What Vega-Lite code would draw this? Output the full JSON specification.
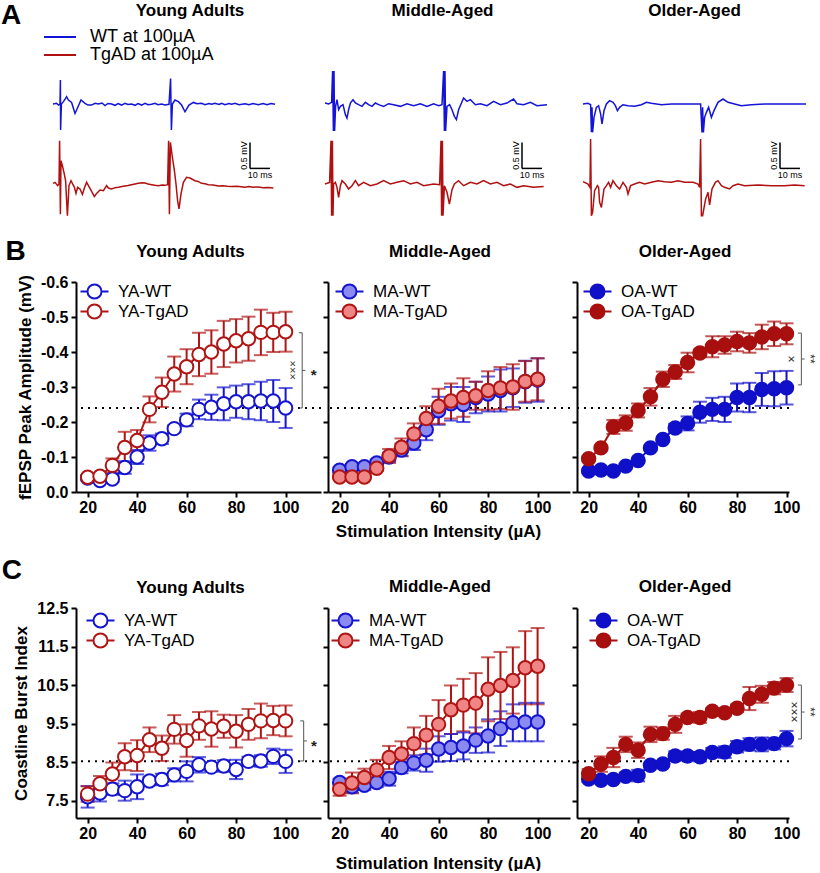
{
"$schema":"https://vega.github.io/schema/vega-lite/v6.json",
"background":"white",
"padding":{"left":1,"top":2,"right":0,"bottom":0},
"config":{
 "font":"Liberation Sans",
 "view":{"stroke":null},
 "title":{"font":"Liberation Sans","fontSize":17,"fontWeight":"bold","color":"black","frame":"group","offset":18},
 "axis":{"domainColor":"black","domainWidth":2,"tickColor":"black","tickWidth":2,"tickSize":5,"labelFont":"Liberation Sans","labelFontWeight":"bold","labelFontSize":16,"labelColor":"black","titleFont":"Liberation Sans","titleFontWeight":"bold","titleFontSize":17,"titleColor":"black","grid":false},
 "axisY":{"titlePadding":6,"labelPadding":3},
 "axisX":{"titlePadding":8,"labelPadding":2},
 "legend":{"labelFont":"Liberation Sans","labelColor":"black"},
 "text":{"font":"Liberation Sans"}
},
"datasets":{
"fepsp":[
{"a":"YA","g":"YA-WT","x":20,"y":-0.04,"e":0.008},{"a":"YA","g":"YA-WT","x":25,"y":-0.033,"e":0.006},{"a":"YA","g":"YA-WT","x":30,"y":-0.037,"e":0.008},{"a":"YA","g":"YA-WT","x":35,"y":-0.07,"e":0.018},{"a":"YA","g":"YA-WT","x":40,"y":-0.1,"e":0.02},{"a":"YA","g":"YA-WT","x":45,"y":-0.14,"e":0.022},{"a":"YA","g":"YA-WT","x":50,"y":-0.152,"e":0.015},{"a":"YA","g":"YA-WT","x":55,"y":-0.181,"e":0.01},{"a":"YA","g":"YA-WT","x":60,"y":-0.206,"e":0.018},{"a":"YA","g":"YA-WT","x":65,"y":-0.236,"e":0.028},{"a":"YA","g":"YA-WT","x":70,"y":-0.242,"e":0.036},{"a":"YA","g":"YA-WT","x":75,"y":-0.252,"e":0.047},{"a":"YA","g":"YA-WT","x":80,"y":-0.258,"e":0.046},{"a":"YA","g":"YA-WT","x":85,"y":-0.258,"e":0.05},{"a":"YA","g":"YA-WT","x":90,"y":-0.26,"e":0.055},{"a":"YA","g":"YA-WT","x":95,"y":-0.26,"e":0.06},{"a":"YA","g":"YA-WT","x":100,"y":-0.24,"e":0.057},
{"a":"YA","g":"YA-TgAD","x":20,"y":-0.042,"e":0.006},{"a":"YA","g":"YA-TgAD","x":25,"y":-0.045,"e":0.006},{"a":"YA","g":"YA-TgAD","x":30,"y":-0.076,"e":0.02},{"a":"YA","g":"YA-TgAD","x":35,"y":-0.127,"e":0.045},{"a":"YA","g":"YA-TgAD","x":40,"y":-0.147,"e":0.03},{"a":"YA","g":"YA-TgAD","x":45,"y":-0.236,"e":0.037},{"a":"YA","g":"YA-TgAD","x":50,"y":-0.285,"e":0.042},{"a":"YA","g":"YA-TgAD","x":55,"y":-0.337,"e":0.05},{"a":"YA","g":"YA-TgAD","x":60,"y":-0.358,"e":0.05},{"a":"YA","g":"YA-TgAD","x":65,"y":-0.393,"e":0.062},{"a":"YA","g":"YA-TgAD","x":70,"y":-0.4,"e":0.062},{"a":"YA","g":"YA-TgAD","x":75,"y":-0.423,"e":0.066},{"a":"YA","g":"YA-TgAD","x":80,"y":-0.432,"e":0.062},{"a":"YA","g":"YA-TgAD","x":85,"y":-0.438,"e":0.063},{"a":"YA","g":"YA-TgAD","x":90,"y":-0.456,"e":0.065},{"a":"YA","g":"YA-TgAD","x":95,"y":-0.456,"e":0.056},{"a":"YA","g":"YA-TgAD","x":100,"y":-0.458,"e":0.057},
{"a":"MA","g":"MA-WT","x":20,"y":-0.062,"e":0.008},{"a":"MA","g":"MA-WT","x":25,"y":-0.072,"e":0.008},{"a":"MA","g":"MA-WT","x":30,"y":-0.072,"e":0.008},{"a":"MA","g":"MA-WT","x":35,"y":-0.083,"e":0.01},{"a":"MA","g":"MA-WT","x":40,"y":-0.1,"e":0.012},{"a":"MA","g":"MA-WT","x":45,"y":-0.12,"e":0.018},{"a":"MA","g":"MA-WT","x":50,"y":-0.14,"e":0.02},{"a":"MA","g":"MA-WT","x":55,"y":-0.178,"e":0.03},{"a":"MA","g":"MA-WT","x":60,"y":-0.232,"e":0.04},{"a":"MA","g":"MA-WT","x":65,"y":-0.252,"e":0.048},{"a":"MA","g":"MA-WT","x":70,"y":-0.25,"e":0.05},{"a":"MA","g":"MA-WT","x":75,"y":-0.27,"e":0.045},{"a":"MA","g":"MA-WT","x":80,"y":-0.28,"e":0.05},{"a":"MA","g":"MA-WT","x":85,"y":-0.29,"e":0.06},{"a":"MA","g":"MA-WT","x":90,"y":-0.298,"e":0.055},{"a":"MA","g":"MA-WT","x":95,"y":-0.315,"e":0.06},{"a":"MA","g":"MA-WT","x":100,"y":-0.32,"e":0.062},
{"a":"MA","g":"MA-TgAD","x":20,"y":-0.043,"e":0.006},{"a":"MA","g":"MA-TgAD","x":25,"y":-0.043,"e":0.006},{"a":"MA","g":"MA-TgAD","x":30,"y":-0.043,"e":0.006},{"a":"MA","g":"MA-TgAD","x":35,"y":-0.068,"e":0.008},{"a":"MA","g":"MA-TgAD","x":40,"y":-0.103,"e":0.02},{"a":"MA","g":"MA-TgAD","x":45,"y":-0.128,"e":0.025},{"a":"MA","g":"MA-TgAD","x":50,"y":-0.166,"e":0.03},{"a":"MA","g":"MA-TgAD","x":55,"y":-0.21,"e":0.035},{"a":"MA","g":"MA-TgAD","x":60,"y":-0.245,"e":0.05},{"a":"MA","g":"MA-TgAD","x":65,"y":-0.26,"e":0.05},{"a":"MA","g":"MA-TgAD","x":70,"y":-0.27,"e":0.055},{"a":"MA","g":"MA-TgAD","x":75,"y":-0.275,"e":0.04},{"a":"MA","g":"MA-TgAD","x":80,"y":-0.29,"e":0.055},{"a":"MA","g":"MA-TgAD","x":85,"y":-0.297,"e":0.06},{"a":"MA","g":"MA-TgAD","x":90,"y":-0.3,"e":0.065},{"a":"MA","g":"MA-TgAD","x":95,"y":-0.316,"e":0.058},{"a":"MA","g":"MA-TgAD","x":100,"y":-0.322,"e":0.06},
{"a":"OA","g":"OA-WT","x":20,"y":-0.06,"e":0.005},{"a":"OA","g":"OA-WT","x":25,"y":-0.063,"e":0.005},{"a":"OA","g":"OA-WT","x":30,"y":-0.06,"e":0.005},{"a":"OA","g":"OA-WT","x":35,"y":-0.074,"e":0.006},{"a":"OA","g":"OA-WT","x":40,"y":-0.09,"e":0.006},{"a":"OA","g":"OA-WT","x":45,"y":-0.126,"e":0.006},{"a":"OA","g":"OA-WT","x":50,"y":-0.15,"e":0.006},{"a":"OA","g":"OA-WT","x":55,"y":-0.183,"e":0.012},{"a":"OA","g":"OA-WT","x":60,"y":-0.196,"e":0.02},{"a":"OA","g":"OA-WT","x":65,"y":-0.228,"e":0.03},{"a":"OA","g":"OA-WT","x":70,"y":-0.236,"e":0.033},{"a":"OA","g":"OA-WT","x":75,"y":-0.236,"e":0.036},{"a":"OA","g":"OA-WT","x":80,"y":-0.27,"e":0.04},{"a":"OA","g":"OA-WT","x":85,"y":-0.27,"e":0.042},{"a":"OA","g":"OA-WT","x":90,"y":-0.293,"e":0.047},{"a":"OA","g":"OA-WT","x":95,"y":-0.295,"e":0.05},{"a":"OA","g":"OA-WT","x":100,"y":-0.298,"e":0.048},
{"a":"OA","g":"OA-TgAD","x":20,"y":-0.095,"e":0.006},{"a":"OA","g":"OA-TgAD","x":25,"y":-0.126,"e":0.006},{"a":"OA","g":"OA-TgAD","x":30,"y":-0.186,"e":0.02},{"a":"OA","g":"OA-TgAD","x":35,"y":-0.197,"e":0.022},{"a":"OA","g":"OA-TgAD","x":40,"y":-0.233,"e":0.02},{"a":"OA","g":"OA-TgAD","x":45,"y":-0.272,"e":0.025},{"a":"OA","g":"OA-TgAD","x":50,"y":-0.322,"e":0.022},{"a":"OA","g":"OA-TgAD","x":55,"y":-0.343,"e":0.02},{"a":"OA","g":"OA-TgAD","x":60,"y":-0.37,"e":0.028},{"a":"OA","g":"OA-TgAD","x":65,"y":-0.397,"e":0.01},{"a":"OA","g":"OA-TgAD","x":70,"y":-0.415,"e":0.03},{"a":"OA","g":"OA-TgAD","x":75,"y":-0.42,"e":0.025},{"a":"OA","g":"OA-TgAD","x":80,"y":-0.43,"e":0.028},{"a":"OA","g":"OA-TgAD","x":85,"y":-0.426,"e":0.028},{"a":"OA","g":"OA-TgAD","x":90,"y":-0.443,"e":0.035},{"a":"OA","g":"OA-TgAD","x":95,"y":-0.452,"e":0.035},{"a":"OA","g":"OA-TgAD","x":100,"y":-0.452,"e":0.03}
],
"cbi":[
{"a":"YA","g":"YA-WT","x":20,"y":7.6,"e":0.28},{"a":"YA","g":"YA-WT","x":25,"y":7.7,"e":0.22},{"a":"YA","g":"YA-WT","x":30,"y":7.8,"e":0.15},{"a":"YA","g":"YA-WT","x":35,"y":7.76,"e":0.26},{"a":"YA","g":"YA-WT","x":40,"y":7.86,"e":0.32},{"a":"YA","g":"YA-WT","x":45,"y":8.01,"e":0.1},{"a":"YA","g":"YA-WT","x":50,"y":8.05,"e":0.15},{"a":"YA","g":"YA-WT","x":55,"y":8.17,"e":0.17},{"a":"YA","g":"YA-WT","x":60,"y":8.26,"e":0.26},{"a":"YA","g":"YA-WT","x":65,"y":8.43,"e":0.2},{"a":"YA","g":"YA-WT","x":70,"y":8.37,"e":0.1},{"a":"YA","g":"YA-WT","x":75,"y":8.4,"e":0.15},{"a":"YA","g":"YA-WT","x":80,"y":8.31,"e":0.25},{"a":"YA","g":"YA-WT","x":85,"y":8.52,"e":0.12},{"a":"YA","g":"YA-WT","x":90,"y":8.53,"e":0.15},{"a":"YA","g":"YA-WT","x":95,"y":8.65,"e":0.2},{"a":"YA","g":"YA-WT","x":100,"y":8.52,"e":0.3},
{"a":"YA","g":"YA-TgAD","x":20,"y":7.67,"e":0.2},{"a":"YA","g":"YA-TgAD","x":25,"y":7.94,"e":0.2},{"a":"YA","g":"YA-TgAD","x":30,"y":8.19,"e":0.3},{"a":"YA","g":"YA-TgAD","x":35,"y":8.64,"e":0.35},{"a":"YA","g":"YA-TgAD","x":40,"y":8.67,"e":0.4},{"a":"YA","g":"YA-TgAD","x":45,"y":9.08,"e":0.32},{"a":"YA","g":"YA-TgAD","x":50,"y":8.86,"e":0.33},{"a":"YA","g":"YA-TgAD","x":55,"y":9.35,"e":0.37},{"a":"YA","g":"YA-TgAD","x":60,"y":9.06,"e":0.42},{"a":"YA","g":"YA-TgAD","x":65,"y":9.44,"e":0.36},{"a":"YA","g":"YA-TgAD","x":70,"y":9.36,"e":0.46},{"a":"YA","g":"YA-TgAD","x":75,"y":9.43,"e":0.3},{"a":"YA","g":"YA-TgAD","x":80,"y":9.3,"e":0.42},{"a":"YA","g":"YA-TgAD","x":85,"y":9.48,"e":0.4},{"a":"YA","g":"YA-TgAD","x":90,"y":9.57,"e":0.45},{"a":"YA","g":"YA-TgAD","x":95,"y":9.58,"e":0.38},{"a":"YA","g":"YA-TgAD","x":100,"y":9.57,"e":0.4},
{"a":"MA","g":"MA-WT","x":20,"y":7.97,"e":0.1},{"a":"MA","g":"MA-WT","x":25,"y":7.86,"e":0.15},{"a":"MA","g":"MA-WT","x":30,"y":7.9,"e":0.12},{"a":"MA","g":"MA-WT","x":35,"y":7.97,"e":0.12},{"a":"MA","g":"MA-WT","x":40,"y":8.07,"e":0.18},{"a":"MA","g":"MA-WT","x":45,"y":8.36,"e":0.15},{"a":"MA","g":"MA-WT","x":50,"y":8.48,"e":0.2},{"a":"MA","g":"MA-WT","x":55,"y":8.55,"e":0.3},{"a":"MA","g":"MA-WT","x":60,"y":8.84,"e":0.33},{"a":"MA","g":"MA-WT","x":65,"y":8.88,"e":0.35},{"a":"MA","g":"MA-WT","x":70,"y":8.92,"e":0.35},{"a":"MA","g":"MA-WT","x":75,"y":9.07,"e":0.33},{"a":"MA","g":"MA-WT","x":80,"y":9.18,"e":0.43},{"a":"MA","g":"MA-WT","x":85,"y":9.37,"e":0.45},{"a":"MA","g":"MA-WT","x":90,"y":9.52,"e":0.48},{"a":"MA","g":"MA-WT","x":95,"y":9.54,"e":0.5},{"a":"MA","g":"MA-WT","x":100,"y":9.54,"e":0.5},
{"a":"MA","g":"MA-TgAD","x":20,"y":7.8,"e":0.17},{"a":"MA","g":"MA-TgAD","x":25,"y":7.96,"e":0.27},{"a":"MA","g":"MA-TgAD","x":30,"y":8.1,"e":0.23},{"a":"MA","g":"MA-TgAD","x":35,"y":8.3,"e":0.26},{"a":"MA","g":"MA-TgAD","x":40,"y":8.62,"e":0.3},{"a":"MA","g":"MA-TgAD","x":45,"y":8.71,"e":0.33},{"a":"MA","g":"MA-TgAD","x":50,"y":8.98,"e":0.42},{"a":"MA","g":"MA-TgAD","x":55,"y":9.2,"e":0.5},{"a":"MA","g":"MA-TgAD","x":60,"y":9.48,"e":0.63},{"a":"MA","g":"MA-TgAD","x":65,"y":9.86,"e":0.63},{"a":"MA","g":"MA-TgAD","x":70,"y":9.98,"e":0.68},{"a":"MA","g":"MA-TgAD","x":75,"y":10.03,"e":0.78},{"a":"MA","g":"MA-TgAD","x":80,"y":10.39,"e":0.83},{"a":"MA","g":"MA-TgAD","x":85,"y":10.49,"e":0.87},{"a":"MA","g":"MA-TgAD","x":90,"y":10.62,"e":0.86},{"a":"MA","g":"MA-TgAD","x":95,"y":10.95,"e":0.95},{"a":"MA","g":"MA-TgAD","x":100,"y":10.99,"e":0.99},
{"a":"OA","g":"OA-WT","x":20,"y":8.06,"e":0.08},{"a":"OA","g":"OA-WT","x":25,"y":8.03,"e":0.08},{"a":"OA","g":"OA-WT","x":30,"y":8.05,"e":0.08},{"a":"OA","g":"OA-WT","x":35,"y":8.13,"e":0.1},{"a":"OA","g":"OA-WT","x":40,"y":8.15,"e":0.15},{"a":"OA","g":"OA-WT","x":45,"y":8.42,"e":0.06},{"a":"OA","g":"OA-WT","x":50,"y":8.45,"e":0.06},{"a":"OA","g":"OA-WT","x":55,"y":8.66,"e":0.12},{"a":"OA","g":"OA-WT","x":60,"y":8.66,"e":0.1},{"a":"OA","g":"OA-WT","x":65,"y":8.64,"e":0.12},{"a":"OA","g":"OA-WT","x":70,"y":8.75,"e":0.12},{"a":"OA","g":"OA-WT","x":75,"y":8.76,"e":0.15},{"a":"OA","g":"OA-WT","x":80,"y":8.9,"e":0.15},{"a":"OA","g":"OA-WT","x":85,"y":8.96,"e":0.16},{"a":"OA","g":"OA-WT","x":90,"y":8.96,"e":0.18},{"a":"OA","g":"OA-WT","x":95,"y":8.98,"e":0.15},{"a":"OA","g":"OA-WT","x":100,"y":9.11,"e":0.2},
{"a":"OA","g":"OA-TgAD","x":20,"y":8.2,"e":0.12},{"a":"OA","g":"OA-TgAD","x":25,"y":8.45,"e":0.2},{"a":"OA","g":"OA-TgAD","x":30,"y":8.62,"e":0.25},{"a":"OA","g":"OA-TgAD","x":35,"y":8.96,"e":0.2},{"a":"OA","g":"OA-TgAD","x":40,"y":8.81,"e":0.2},{"a":"OA","g":"OA-TgAD","x":45,"y":9.22,"e":0.2},{"a":"OA","g":"OA-TgAD","x":50,"y":9.24,"e":0.16},{"a":"OA","g":"OA-TgAD","x":55,"y":9.48,"e":0.22},{"a":"OA","g":"OA-TgAD","x":60,"y":9.66,"e":0.1},{"a":"OA","g":"OA-TgAD","x":65,"y":9.66,"e":0.14},{"a":"OA","g":"OA-TgAD","x":70,"y":9.82,"e":0.08},{"a":"OA","g":"OA-TgAD","x":75,"y":9.78,"e":0.08},{"a":"OA","g":"OA-TgAD","x":80,"y":9.9,"e":0.1},{"a":"OA","g":"OA-TgAD","x":85,"y":10.15,"e":0.3},{"a":"OA","g":"OA-TgAD","x":90,"y":10.26,"e":0.22},{"a":"OA","g":"OA-TgAD","x":95,"y":10.42,"e":0.16},{"a":"OA","g":"OA-TgAD","x":100,"y":10.5,"e":0.18}
],
"traces":[
{"p":"YA","g":"WT","t":0,"v":0},{"p":"YA","g":"WT","t":1.8,"v":0.013},{"p":"YA","g":"WT","t":2.7,"v":-0.02},{"p":"YA","g":"WT","t":3.5,"v":0},{"p":"YA","g":"WT","t":3.7,"v":0.46},{"p":"YA","g":"WT","t":3.8,"v":-0.5},{"p":"YA","g":"WT","t":4.2,"v":0},{"p":"YA","g":"WT","t":5.2,"v":0.045},{"p":"YA","g":"WT","t":6.3,"v":0.11},{"p":"YA","g":"WT","t":6.8,"v":0.14},{"p":"YA","g":"WT","t":7.7,"v":0.077},{"p":"YA","g":"WT","t":9.3,"v":0.03},{"p":"YA","g":"WT","t":11,"v":-0.18},{"p":"YA","g":"WT","t":11.8,"v":-0.115},{"p":"YA","g":"WT","t":14,"v":0.077},{"p":"YA","g":"WT","t":16,"v":0.013},{"p":"YA","g":"WT","t":17.5,"v":-0.02},{"p":"YA","g":"WT","t":19.3,"v":-0.02},{"p":"YA","g":"WT","t":21,"v":0.013},{"p":"YA","g":"WT","t":22.7,"v":0},{"p":"YA","g":"WT","t":24.5,"v":0.02},{"p":"YA","g":"WT","t":26,"v":-0.03},{"p":"YA","g":"WT","t":27.5,"v":0.01},{"p":"YA","g":"WT","t":29.3,"v":0},{"p":"YA","g":"WT","t":31,"v":-0.025},{"p":"YA","g":"WT","t":32.5,"v":0.01},{"p":"YA","g":"WT","t":34.3,"v":-0.02},{"p":"YA","g":"WT","t":36,"v":0.015},{"p":"YA","g":"WT","t":37.5,"v":-0.01},{"p":"YA","g":"WT","t":39.3,"v":0},{"p":"YA","g":"WT","t":41,"v":-0.025},{"p":"YA","g":"WT","t":42.5,"v":0.01},{"p":"YA","g":"WT","t":44.3,"v":-0.02},{"p":"YA","g":"WT","t":46,"v":0.015},{"p":"YA","g":"WT","t":47.5,"v":-0.015},{"p":"YA","g":"WT","t":49.3,"v":-0.006},{"p":"YA","g":"WT","t":51,"v":0.015},{"p":"YA","g":"WT","t":52.5,"v":-0.015},{"p":"YA","g":"WT","t":54.3,"v":0},{"p":"YA","g":"WT","t":56,"v":-0.02},{"p":"YA","g":"WT","t":58,"v":-0.006},{"p":"YA","g":"WT","t":58.8,"v":0.49},{"p":"YA","g":"WT","t":59.2,"v":-0.5},{"p":"YA","g":"WT","t":59.7,"v":0},{"p":"YA","g":"WT","t":61,"v":0.077},{"p":"YA","g":"WT","t":62.7,"v":0.045},{"p":"YA","g":"WT","t":64.3,"v":-0.02},{"p":"YA","g":"WT","t":66,"v":-0.15},{"p":"YA","g":"WT","t":68,"v":-0.02},{"p":"YA","g":"WT","t":70.2,"v":0.03},{"p":"YA","g":"WT","t":72,"v":0.005},{"p":"YA","g":"WT","t":74.3,"v":0.013},{"p":"YA","g":"WT","t":76,"v":-0.015},{"p":"YA","g":"WT","t":78,"v":0.01},{"p":"YA","g":"WT","t":79.3,"v":-0.006},{"p":"YA","g":"WT","t":81,"v":0.015},{"p":"YA","g":"WT","t":83,"v":-0.01},{"p":"YA","g":"WT","t":84.3,"v":0.013},{"p":"YA","g":"WT","t":86,"v":-0.015},{"p":"YA","g":"WT","t":88,"v":0.01},{"p":"YA","g":"WT","t":89.3,"v":-0.006},{"p":"YA","g":"WT","t":91,"v":0.015},{"p":"YA","g":"WT","t":93,"v":-0.015},{"p":"YA","g":"WT","t":96,"v":0.006},{"p":"YA","g":"WT","t":98,"v":-0.015},{"p":"YA","g":"WT","t":100,"v":0.01},{"p":"YA","g":"WT","t":102.7,"v":-0.013},{"p":"YA","g":"WT","t":105,"v":0.01},{"p":"YA","g":"WT","t":107,"v":-0.015},{"p":"YA","g":"WT","t":109,"v":0.01},{"p":"YA","g":"WT","t":111,"v":-0.006},
{"p":"YA","g":"TgAD","t":0,"v":0.013},{"p":"YA","g":"TgAD","t":1,"v":0.032},{"p":"YA","g":"TgAD","t":2.3,"v":-0.032},{"p":"YA","g":"TgAD","t":3,"v":0},{"p":"YA","g":"TgAD","t":3.3,"v":0.83},{"p":"YA","g":"TgAD","t":3.7,"v":-0.58},{"p":"YA","g":"TgAD","t":4,"v":0.45},{"p":"YA","g":"TgAD","t":4.7,"v":0.35},{"p":"YA","g":"TgAD","t":5.5,"v":0.22},{"p":"YA","g":"TgAD","t":6.3,"v":0.064},{"p":"YA","g":"TgAD","t":7.2,"v":-0.61},{"p":"YA","g":"TgAD","t":8,"v":-0.03},{"p":"YA","g":"TgAD","t":9,"v":0.064},{"p":"YA","g":"TgAD","t":10.7,"v":-0.064},{"p":"YA","g":"TgAD","t":11.5,"v":-0.18},{"p":"YA","g":"TgAD","t":12.3,"v":-0.064},{"p":"YA","g":"TgAD","t":13.5,"v":-0.096},{"p":"YA","g":"TgAD","t":14.7,"v":-0.2},{"p":"YA","g":"TgAD","t":15.7,"v":-0.077},{"p":"YA","g":"TgAD","t":16.8,"v":0.032},{"p":"YA","g":"TgAD","t":18,"v":-0.05},{"p":"YA","g":"TgAD","t":19.3,"v":-0.14},{"p":"YA","g":"TgAD","t":20.7,"v":-0.24},{"p":"YA","g":"TgAD","t":21.8,"v":-0.18},{"p":"YA","g":"TgAD","t":23.5,"v":-0.115},{"p":"YA","g":"TgAD","t":25.2,"v":-0.128},{"p":"YA","g":"TgAD","t":26.8,"v":-0.032},{"p":"YA","g":"TgAD","t":27.7,"v":-0.077},{"p":"YA","g":"TgAD","t":29.3,"v":-0.096},{"p":"YA","g":"TgAD","t":31,"v":-0.07},{"p":"YA","g":"TgAD","t":32.7,"v":-0.064},{"p":"YA","g":"TgAD","t":34.5,"v":-0.05},{"p":"YA","g":"TgAD","t":36,"v":-0.038},{"p":"YA","g":"TgAD","t":37.5,"v":-0.03},{"p":"YA","g":"TgAD","t":39.3,"v":-0.013},{"p":"YA","g":"TgAD","t":41,"v":0},{"p":"YA","g":"TgAD","t":42.7,"v":0.013},{"p":"YA","g":"TgAD","t":44.5,"v":0.025},{"p":"YA","g":"TgAD","t":46,"v":0.019},{"p":"YA","g":"TgAD","t":47.5,"v":0},{"p":"YA","g":"TgAD","t":49.3,"v":-0.013},{"p":"YA","g":"TgAD","t":51,"v":-0.025},{"p":"YA","g":"TgAD","t":52.7,"v":-0.032},{"p":"YA","g":"TgAD","t":54.5,"v":-0.02},{"p":"YA","g":"TgAD","t":56,"v":-0.026},{"p":"YA","g":"TgAD","t":57.3,"v":-0.013},{"p":"YA","g":"TgAD","t":57.8,"v":0.83},{"p":"YA","g":"TgAD","t":58.2,"v":-0.58},{"p":"YA","g":"TgAD","t":58.7,"v":0.8},{"p":"YA","g":"TgAD","t":59.7,"v":0.51},{"p":"YA","g":"TgAD","t":60.7,"v":0.256},{"p":"YA","g":"TgAD","t":61.5,"v":0},{"p":"YA","g":"TgAD","t":62.3,"v":-0.32},{"p":"YA","g":"TgAD","t":63,"v":-0.48},{"p":"YA","g":"TgAD","t":64,"v":-0.19},{"p":"YA","g":"TgAD","t":65.2,"v":0.032},{"p":"YA","g":"TgAD","t":66.8,"v":0.128},{"p":"YA","g":"TgAD","t":68.5,"v":0.115},{"p":"YA","g":"TgAD","t":71,"v":0.064},{"p":"YA","g":"TgAD","t":72.5,"v":0.05},{"p":"YA","g":"TgAD","t":74.3,"v":0.013},{"p":"YA","g":"TgAD","t":76,"v":0.005},{"p":"YA","g":"TgAD","t":77.7,"v":-0.013},{"p":"YA","g":"TgAD","t":80,"v":-0.02},{"p":"YA","g":"TgAD","t":82.7,"v":-0.038},{"p":"YA","g":"TgAD","t":85,"v":-0.035},{"p":"YA","g":"TgAD","t":87,"v":-0.045},{"p":"YA","g":"TgAD","t":89.3,"v":-0.05},{"p":"YA","g":"TgAD","t":92,"v":-0.045},{"p":"YA","g":"TgAD","t":94,"v":-0.055},{"p":"YA","g":"TgAD","t":96,"v":-0.064},{"p":"YA","g":"TgAD","t":98,"v":-0.05},{"p":"YA","g":"TgAD","t":100,"v":-0.06},{"p":"YA","g":"TgAD","t":102.7,"v":-0.058},{"p":"YA","g":"TgAD","t":105,"v":-0.07},{"p":"YA","g":"TgAD","t":107.5,"v":-0.065},{"p":"YA","g":"TgAD","t":110.2,"v":-0.077},
{"p":"MA","g":"WT","t":0,"v":0.019},{"p":"MA","g":"WT","t":1.8,"v":0},{"p":"MA","g":"WT","t":3.3,"v":0.032},{"p":"MA","g":"WT","t":3.8,"v":0.635},{"p":"MA","g":"WT","t":4.2,"v":-0.52},{"p":"MA","g":"WT","t":4.5,"v":0.635},{"p":"MA","g":"WT","t":4.8,"v":-0.52},{"p":"MA","g":"WT","t":5.3,"v":-0.045},{"p":"MA","g":"WT","t":6,"v":0.083},{"p":"MA","g":"WT","t":6.8,"v":-0.11},{"p":"MA","g":"WT","t":7.7,"v":-0.045},{"p":"MA","g":"WT","t":9,"v":-0.013},{"p":"MA","g":"WT","t":10.2,"v":-0.205},{"p":"MA","g":"WT","t":11,"v":-0.27},{"p":"MA","g":"WT","t":11.8,"v":-0.11},{"p":"MA","g":"WT","t":12.7,"v":0.019},{"p":"MA","g":"WT","t":14,"v":0.083},{"p":"MA","g":"WT","t":15.2,"v":0.019},{"p":"MA","g":"WT","t":16.8,"v":-0.013},{"p":"MA","g":"WT","t":18.5,"v":-0.045},{"p":"MA","g":"WT","t":20.2,"v":0.032},{"p":"MA","g":"WT","t":21.8,"v":-0.013},{"p":"MA","g":"WT","t":23.5,"v":-0.045},{"p":"MA","g":"WT","t":25.2,"v":0.019},{"p":"MA","g":"WT","t":26.8,"v":-0.013},{"p":"MA","g":"WT","t":29.3,"v":-0.045},{"p":"MA","g":"WT","t":31.8,"v":0.006},{"p":"MA","g":"WT","t":34.3,"v":-0.013},{"p":"MA","g":"WT","t":37.7,"v":-0.045},{"p":"MA","g":"WT","t":41,"v":0.006},{"p":"MA","g":"WT","t":44.3,"v":-0.032},{"p":"MA","g":"WT","t":47.7,"v":0.006},{"p":"MA","g":"WT","t":51,"v":-0.045},{"p":"MA","g":"WT","t":54.3,"v":0.006},{"p":"MA","g":"WT","t":56.8,"v":-0.032},{"p":"MA","g":"WT","t":58.5,"v":-0.013},{"p":"MA","g":"WT","t":59.3,"v":0.635},{"p":"MA","g":"WT","t":59.7,"v":-0.52},{"p":"MA","g":"WT","t":60,"v":0.635},{"p":"MA","g":"WT","t":60.3,"v":-0.52},{"p":"MA","g":"WT","t":61,"v":-0.045},{"p":"MA","g":"WT","t":62.3,"v":-0.013},{"p":"MA","g":"WT","t":63.5,"v":-0.11},{"p":"MA","g":"WT","t":64.7,"v":-0.237},{"p":"MA","g":"WT","t":65.7,"v":-0.3},{"p":"MA","g":"WT","t":66.8,"v":-0.11},{"p":"MA","g":"WT","t":69.3,"v":0.115},{"p":"MA","g":"WT","t":71,"v":0.051},{"p":"MA","g":"WT","t":72.7,"v":0.083},{"p":"MA","g":"WT","t":75.2,"v":-0.013},{"p":"MA","g":"WT","t":77.7,"v":0.006},{"p":"MA","g":"WT","t":81,"v":-0.032},{"p":"MA","g":"WT","t":84.3,"v":0.051},{"p":"MA","g":"WT","t":87.7,"v":-0.013},{"p":"MA","g":"WT","t":91,"v":0.019},{"p":"MA","g":"WT","t":94.3,"v":0.096},{"p":"MA","g":"WT","t":96,"v":0.006},{"p":"MA","g":"WT","t":99.3,"v":-0.013},{"p":"MA","g":"WT","t":102.7,"v":0.032},{"p":"MA","g":"WT","t":106,"v":-0.032},{"p":"MA","g":"WT","t":111,"v":-0.013},
{"p":"MA","g":"TgAD","t":0,"v":0},{"p":"MA","g":"TgAD","t":2.3,"v":0.032},{"p":"MA","g":"TgAD","t":3,"v":0.83},{"p":"MA","g":"TgAD","t":3.3,"v":-0.61},{"p":"MA","g":"TgAD","t":3.7,"v":0.83},{"p":"MA","g":"TgAD","t":4,"v":-0.61},{"p":"MA","g":"TgAD","t":4.3,"v":0},{"p":"MA","g":"TgAD","t":5.2,"v":0.032},{"p":"MA","g":"TgAD","t":6,"v":-0.064},{"p":"MA","g":"TgAD","t":6.8,"v":-0.256},{"p":"MA","g":"TgAD","t":7.7,"v":-0.032},{"p":"MA","g":"TgAD","t":8.5,"v":0.064},{"p":"MA","g":"TgAD","t":10.2,"v":0},{"p":"MA","g":"TgAD","t":11.8,"v":-0.096},{"p":"MA","g":"TgAD","t":13.5,"v":-0.032},{"p":"MA","g":"TgAD","t":15.2,"v":0.064},{"p":"MA","g":"TgAD","t":16.8,"v":-0.032},{"p":"MA","g":"TgAD","t":19.3,"v":0.032},{"p":"MA","g":"TgAD","t":22.7,"v":-0.032},{"p":"MA","g":"TgAD","t":26,"v":0},{"p":"MA","g":"TgAD","t":29.3,"v":0.064},{"p":"MA","g":"TgAD","t":32.7,"v":0},{"p":"MA","g":"TgAD","t":36,"v":0.032},{"p":"MA","g":"TgAD","t":39.3,"v":0.064},{"p":"MA","g":"TgAD","t":42.7,"v":0},{"p":"MA","g":"TgAD","t":46,"v":0.032},{"p":"MA","g":"TgAD","t":49.3,"v":-0.032},{"p":"MA","g":"TgAD","t":54.3,"v":0},{"p":"MA","g":"TgAD","t":57.3,"v":-0.013},{"p":"MA","g":"TgAD","t":58,"v":0.83},{"p":"MA","g":"TgAD","t":58.3,"v":-0.61},{"p":"MA","g":"TgAD","t":58.7,"v":0.83},{"p":"MA","g":"TgAD","t":59,"v":-0.61},{"p":"MA","g":"TgAD","t":59.7,"v":-0.032},{"p":"MA","g":"TgAD","t":61,"v":-0.16},{"p":"MA","g":"TgAD","t":62.2,"v":-0.385},{"p":"MA","g":"TgAD","t":63.5,"v":-0.11},{"p":"MA","g":"TgAD","t":64.7,"v":0},{"p":"MA","g":"TgAD","t":66.8,"v":0.064},{"p":"MA","g":"TgAD","t":69.3,"v":-0.032},{"p":"MA","g":"TgAD","t":72.7,"v":0.032},{"p":"MA","g":"TgAD","t":76,"v":0},{"p":"MA","g":"TgAD","t":79.3,"v":0.064},{"p":"MA","g":"TgAD","t":82.7,"v":0},{"p":"MA","g":"TgAD","t":86,"v":0.032},{"p":"MA","g":"TgAD","t":89.3,"v":-0.032},{"p":"MA","g":"TgAD","t":92.7,"v":0},{"p":"MA","g":"TgAD","t":96,"v":-0.064},{"p":"MA","g":"TgAD","t":99.3,"v":-0.032},{"p":"MA","g":"TgAD","t":104.3,"v":-0.064},{"p":"MA","g":"TgAD","t":109.3,"v":-0.05},
{"p":"OA","g":"WT","t":0,"v":0},{"p":"OA","g":"WT","t":2.5,"v":0.013},{"p":"OA","g":"WT","t":3.8,"v":-0.013},{"p":"OA","g":"WT","t":4.2,"v":-0.545},{"p":"OA","g":"WT","t":4.5,"v":-0.064},{"p":"OA","g":"WT","t":4.8,"v":-0.545},{"p":"OA","g":"WT","t":5.5,"v":-0.256},{"p":"OA","g":"WT","t":6.7,"v":-0.064},{"p":"OA","g":"WT","t":7.8,"v":-0.032},{"p":"OA","g":"WT","t":8.8,"v":-0.19},{"p":"OA","g":"WT","t":9.5,"v":-0.385},{"p":"OA","g":"WT","t":10.5,"v":-0.128},{"p":"OA","g":"WT","t":11.7,"v":0},{"p":"OA","g":"WT","t":13.3,"v":0.064},{"p":"OA","g":"WT","t":15,"v":0.032},{"p":"OA","g":"WT","t":16.2,"v":-0.032},{"p":"OA","g":"WT","t":17.2,"v":-0.128},{"p":"OA","g":"WT","t":18.3,"v":-0.064},{"p":"OA","g":"WT","t":20,"v":-0.013},{"p":"OA","g":"WT","t":22.5,"v":-0.032},{"p":"OA","g":"WT","t":25.8,"v":-0.045},{"p":"OA","g":"WT","t":29.2,"v":-0.013},{"p":"OA","g":"WT","t":31.7,"v":0.032},{"p":"OA","g":"WT","t":34.2,"v":0.013},{"p":"OA","g":"WT","t":39.2,"v":-0.013},{"p":"OA","g":"WT","t":44.2,"v":0},{"p":"OA","g":"WT","t":50.8,"v":0},{"p":"OA","g":"WT","t":57.5,"v":0},{"p":"OA","g":"WT","t":58.8,"v":0},{"p":"OA","g":"WT","t":59.5,"v":-0.545},{"p":"OA","g":"WT","t":59.8,"v":-0.064},{"p":"OA","g":"WT","t":60.2,"v":-0.545},{"p":"OA","g":"WT","t":60.8,"v":-0.256},{"p":"OA","g":"WT","t":61.7,"v":-0.16},{"p":"OA","g":"WT","t":62.8,"v":-0.064},{"p":"OA","g":"WT","t":64.2,"v":-0.256},{"p":"OA","g":"WT","t":65.5,"v":-0.128},{"p":"OA","g":"WT","t":67.5,"v":0.032},{"p":"OA","g":"WT","t":70,"v":0.096},{"p":"OA","g":"WT","t":72.5,"v":0.032},{"p":"OA","g":"WT","t":75.8,"v":0},{"p":"OA","g":"WT","t":79.2,"v":-0.032},{"p":"OA","g":"WT","t":84.2,"v":-0.013},{"p":"OA","g":"WT","t":90.8,"v":0},{"p":"OA","g":"WT","t":97.5,"v":0},{"p":"OA","g":"WT","t":104.2,"v":0},{"p":"OA","g":"WT","t":111.5,"v":0},
{"p":"OA","g":"TgAD","t":0,"v":0.045},{"p":"OA","g":"TgAD","t":2.5,"v":0},{"p":"OA","g":"TgAD","t":3.5,"v":-0.064},{"p":"OA","g":"TgAD","t":3.8,"v":0.865},{"p":"OA","g":"TgAD","t":4.2,"v":-0.61},{"p":"OA","g":"TgAD","t":4.8,"v":-0.545},{"p":"OA","g":"TgAD","t":5.8,"v":-0.128},{"p":"OA","g":"TgAD","t":7.2,"v":-0.032},{"p":"OA","g":"TgAD","t":7.8,"v":-0.064},{"p":"OA","g":"TgAD","t":8.3,"v":-0.35},{"p":"OA","g":"TgAD","t":9.2,"v":-0.45},{"p":"OA","g":"TgAD","t":10.5,"v":-0.096},{"p":"OA","g":"TgAD","t":11.7,"v":-0.032},{"p":"OA","g":"TgAD","t":12.8,"v":0.032},{"p":"OA","g":"TgAD","t":13.8,"v":-0.064},{"p":"OA","g":"TgAD","t":15,"v":0.064},{"p":"OA","g":"TgAD","t":16.7,"v":-0.032},{"p":"OA","g":"TgAD","t":18.3,"v":-0.096},{"p":"OA","g":"TgAD","t":20,"v":0.032},{"p":"OA","g":"TgAD","t":21.7,"v":-0.064},{"p":"OA","g":"TgAD","t":22.5,"v":-0.19},{"p":"OA","g":"TgAD","t":23.8,"v":-0.032},{"p":"OA","g":"TgAD","t":25.8,"v":0},{"p":"OA","g":"TgAD","t":28.3,"v":0.032},{"p":"OA","g":"TgAD","t":30.8,"v":0},{"p":"OA","g":"TgAD","t":34.2,"v":0.032},{"p":"OA","g":"TgAD","t":37.5,"v":0.064},{"p":"OA","g":"TgAD","t":40.8,"v":0.045},{"p":"OA","g":"TgAD","t":44.2,"v":0.032},{"p":"OA","g":"TgAD","t":47.5,"v":0.064},{"p":"OA","g":"TgAD","t":50.8,"v":0.032},{"p":"OA","g":"TgAD","t":55,"v":0.032},{"p":"OA","g":"TgAD","t":57.5,"v":0},{"p":"OA","g":"TgAD","t":58.3,"v":-0.064},{"p":"OA","g":"TgAD","t":58.8,"v":0.865},{"p":"OA","g":"TgAD","t":59.2,"v":-0.61},{"p":"OA","g":"TgAD","t":59.8,"v":-0.61},{"p":"OA","g":"TgAD","t":61.3,"v":-0.29},{"p":"OA","g":"TgAD","t":62.5,"v":-0.16},{"p":"OA","g":"TgAD","t":63.3,"v":-0.4},{"p":"OA","g":"TgAD","t":64.5,"v":-0.096},{"p":"OA","g":"TgAD","t":66.2,"v":0.032},{"p":"OA","g":"TgAD","t":67.5,"v":0.064},{"p":"OA","g":"TgAD","t":69.2,"v":-0.032},{"p":"OA","g":"TgAD","t":70.8,"v":-0.064},{"p":"OA","g":"TgAD","t":73.3,"v":-0.096},{"p":"OA","g":"TgAD","t":75,"v":-0.032},{"p":"OA","g":"TgAD","t":77.5,"v":0},{"p":"OA","g":"TgAD","t":80.8,"v":-0.032},{"p":"OA","g":"TgAD","t":87.5,"v":-0.019},{"p":"OA","g":"TgAD","t":94.2,"v":-0.032},{"p":"OA","g":"TgAD","t":100.8,"v":-0.032},{"p":"OA","g":"TgAD","t":105.8,"v":-0.019},{"p":"OA","g":"TgAD","t":110.8,"v":-0.032}
]
},
"vconcat":[
{
 "title":{"text":"A","anchor":"start","frame":"bounds","fontSize":28,"dx":-49,"dy":28,"offset":0},
 "spacing":30,
 "resolve":{"scale":{"color":"independent"}},
 "hconcat":[
  {"width":200,"height":187,"title":{"text":"Young Adults","dx":14,"offset":8},
   "resolve":{"scale":{"y":"independent"}},
   "layer":[
    {"data":{"name":"traces"},"transform":[{"filter":"datum.p=='YA' && datum.g=='WT'"}],"mark":{"type":"line","strokeWidth":1.5},"encoding":{"x":{"field":"t","type":"quantitative","scale":{"domain":[11.5,111.5],"nice":false,"zero":false},"axis":null},"y":{"field":"v","type":"quantitative","scale":{"domain":[-2.135,1.462],"nice":false,"zero":false},"axis":null},"color":{"field":"g","type":"nominal","scale":{"domain":["WT","TgAD"],"range":["#1414d8","#b01010"]},"legend":{"title":null,"orient":"none","legendX":-25,"legendY":0,"symbolType":"M-2,0L2,0","symbolSize":256,"symbolStrokeWidth":2,"labelFontSize":18,"labelOffset":21,"rowPadding":-2,"padding":0,"labelExpr":"datum.label + ' at 100µA'"}}}},
    {"data":{"name":"traces"},"transform":[{"filter":"datum.p=='YA' && datum.g=='TgAD'"}],"mark":{"type":"line","strokeWidth":1.5},"encoding":{"x":{"field":"t","type":"quantitative","scale":{"domain":[11.5,111.5],"nice":false,"zero":false},"axis":null},"y":{"field":"v","type":"quantitative","scale":{"domain":[-0.596,3.0],"nice":false,"zero":false},"axis":null},"color":{"field":"g","type":"nominal","scale":{"domain":["WT","TgAD"],"range":["#1414d8","#b01010"]}}}},
    {"data":{"values":[{"t1":98.5,"t2":98.5,"v1":0.3,"v2":0.8},{"t1":98.5,"t2":108.5,"v1":0.3,"v2":0.3}]},"mark":{"type":"rule","color":"black","strokeWidth":1.5},"encoding":{"x":{"field":"t1","type":"quantitative","scale":{"domain":[11.5,111.5],"nice":false,"zero":false},"axis":null},"x2":{"field":"t2"},"y":{"field":"v1","type":"quantitative","scale":{"domain":[-0.596,3.0],"nice":false,"zero":false},"axis":null},"y2":{"field":"v2"}}},
    {"data":{"values":[{"t":95.5,"v":0.55,"s":"0.5 mV"}]},"mark":{"type":"text","angle":270,"fontSize":9,"color":"black"},"encoding":{"x":{"field":"t","type":"quantitative","scale":{"domain":[11.5,111.5],"nice":false,"zero":false},"axis":null},"y":{"field":"v","type":"quantitative","scale":{"domain":[-0.596,3.0],"nice":false,"zero":false},"axis":null},"text":{"field":"s"}}},
    {"data":{"values":[{"t":103.5,"v":0.18,"s":"10 ms"}]},"mark":{"type":"text","fontSize":9,"color":"black"},"encoding":{"x":{"field":"t","type":"quantitative","scale":{"domain":[11.5,111.5],"nice":false,"zero":false},"axis":null},"y":{"field":"v","type":"quantitative","scale":{"domain":[-0.596,3.0],"nice":false,"zero":false},"axis":null},"text":{"field":"s"}}}
   ]},
  {"width":239,"height":187,"title":{"text":"Middle-Aged","dx":15,"offset":8},
   "resolve":{"scale":{"y":"independent"}},
   "layer":[
    {"data":{"name":"traces"},"transform":[{"filter":"datum.p=='MA' && datum.g=='WT'"}],"mark":{"type":"line","strokeWidth":1.5},"encoding":{"x":{"field":"t","type":"quantitative","scale":{"domain":[-8.5,111],"nice":false,"zero":false},"axis":null},"y":{"field":"v","type":"quantitative","scale":{"domain":[-2.135,1.462],"nice":false,"zero":false},"axis":null},"color":{"field":"g","type":"nominal","scale":{"domain":["WT","TgAD"],"range":["#1414d8","#b01010"]},"legend":null}}},
    {"data":{"name":"traces"},"transform":[{"filter":"datum.p=='MA' && datum.g=='TgAD'"}],"mark":{"type":"line","strokeWidth":1.5},"encoding":{"x":{"field":"t","type":"quantitative","scale":{"domain":[-8.5,111],"nice":false,"zero":false},"axis":null},"y":{"field":"v","type":"quantitative","scale":{"domain":[-0.596,3.0],"nice":false,"zero":false},"axis":null},"color":{"field":"g","type":"nominal","scale":{"domain":["WT","TgAD"],"range":["#1414d8","#b01010"]},"legend":null}}},
    {"data":{"values":[{"t1":98.5,"t2":98.5,"v1":0.3,"v2":0.8},{"t1":98.5,"t2":108.5,"v1":0.3,"v2":0.3}]},"mark":{"type":"rule","color":"black","strokeWidth":1.5},"encoding":{"x":{"field":"t1","type":"quantitative","scale":{"domain":[-8.5,111],"nice":false,"zero":false},"axis":null},"x2":{"field":"t2"},"y":{"field":"v1","type":"quantitative","scale":{"domain":[-0.596,3.0],"nice":false,"zero":false},"axis":null},"y2":{"field":"v2"}}},
    {"data":{"values":[{"t":95.5,"v":0.55,"s":"0.5 mV"}]},"mark":{"type":"text","angle":270,"fontSize":9,"color":"black"},"encoding":{"x":{"field":"t","type":"quantitative","scale":{"domain":[-8.5,111],"nice":false,"zero":false},"axis":null},"y":{"field":"v","type":"quantitative","scale":{"domain":[-0.596,3.0],"nice":false,"zero":false},"axis":null},"text":{"field":"s"}}},
    {"data":{"values":[{"t":103.5,"v":0.18,"s":"10 ms"}]},"mark":{"type":"text","fontSize":9,"color":"black"},"encoding":{"x":{"field":"t","type":"quantitative","scale":{"domain":[-8.5,111],"nice":false,"zero":false},"axis":null},"y":{"field":"v","type":"quantitative","scale":{"domain":[-0.596,3.0],"nice":false,"zero":false},"axis":null},"text":{"field":"s"}}}
   ]},
  {"width":223,"height":187,"title":{"text":"Older-Aged","dx":0,"offset":8},
   "resolve":{"scale":{"y":"independent"}},
   "layer":[
    {"data":{"name":"traces"},"transform":[{"filter":"datum.p=='OA' && datum.g=='WT'"}],"mark":{"type":"line","strokeWidth":1.5},"encoding":{"x":{"field":"t","type":"quantitative","scale":{"domain":[0,111.5],"nice":false,"zero":false},"axis":null},"y":{"field":"v","type":"quantitative","scale":{"domain":[-2.135,1.462],"nice":false,"zero":false},"axis":null},"color":{"field":"g","type":"nominal","scale":{"domain":["WT","TgAD"],"range":["#1414d8","#b01010"]},"legend":null}}},
    {"data":{"name":"traces"},"transform":[{"filter":"datum.p=='OA' && datum.g=='TgAD'"}],"mark":{"type":"line","strokeWidth":1.5},"encoding":{"x":{"field":"t","type":"quantitative","scale":{"domain":[0,111.5],"nice":false,"zero":false},"axis":null},"y":{"field":"v","type":"quantitative","scale":{"domain":[-0.596,3.0],"nice":false,"zero":false},"axis":null},"color":{"field":"g","type":"nominal","scale":{"domain":["WT","TgAD"],"range":["#1414d8","#b01010"]},"legend":null}}},
    {"data":{"values":[{"t1":98.5,"t2":98.5,"v1":0.3,"v2":0.8},{"t1":98.5,"t2":108.5,"v1":0.3,"v2":0.3}]},"mark":{"type":"rule","color":"black","strokeWidth":1.5},"encoding":{"x":{"field":"t1","type":"quantitative","scale":{"domain":[0,111.5],"nice":false,"zero":false},"axis":null},"x2":{"field":"t2"},"y":{"field":"v1","type":"quantitative","scale":{"domain":[-0.596,3.0],"nice":false,"zero":false},"axis":null},"y2":{"field":"v2"}}},
    {"data":{"values":[{"t":95.5,"v":0.55,"s":"0.5 mV"}]},"mark":{"type":"text","angle":270,"fontSize":9,"color":"black"},"encoding":{"x":{"field":"t","type":"quantitative","scale":{"domain":[0,111.5],"nice":false,"zero":false},"axis":null},"y":{"field":"v","type":"quantitative","scale":{"domain":[-0.596,3.0],"nice":false,"zero":false},"axis":null},"text":{"field":"s"}}},
    {"data":{"values":[{"t":103.5,"v":0.18,"s":"10 ms"}]},"mark":{"type":"text","fontSize":9,"color":"black"},"encoding":{"x":{"field":"t","type":"quantitative","scale":{"domain":[0,111.5],"nice":false,"zero":false},"axis":null},"y":{"field":"v","type":"quantitative","scale":{"domain":[-0.596,3.0],"nice":false,"zero":false},"axis":null},"text":{"field":"s"}}}
   ]}
 ]
},
{
 "title":{"text":"B","anchor":"start","frame":"bounds","fontSize":28,"dx":-11,"dy":23,"offset":0},
 "spacing":0,
 "resolve":{"scale":{"color":"independent","stroke":"independent","fill":"independent"}},
 "hconcat":[
  {"width":245,"height":210,"title":{"text":"Young Adults","dx":-8,"offset":11},
   "layer":[
    {"data":{"values":[{}]},"mark":{"type":"rule","strokeDash":[2,5],"strokeWidth":2,"color":"black"},"encoding":{"y":{"datum":-0.24,"type":"quantitative","scale":{"domain":[-0.6,0],"reverse":true,"nice":false,"zero":false},"axis":{"values":[-0.6,-0.5,-0.4,-0.3,-0.2,-0.1,0],"format":".1f","labelExpr":"replace(datum.label,'\u2212','-')","title":"fEPSP Peak Amplitude  (mV)"}}}},
    {"data":{"name":"fepsp"},"transform":[{"filter":"datum.a=='YA'"}],"mark":{"type":"errorbar","ticks":true,"size":14,"thickness":2},"encoding":{"x":{"field":"x","type":"quantitative","scale":{"domain":[15.3,114.3],"nice":false,"zero":false},"axis":{"values":[20,40,60,80,100],"format":"d","title":null}},"y":{"field":"y","type":"quantitative","scale":{"domain":[-0.6,0],"reverse":true,"nice":false,"zero":false},"axis":{"values":[-0.6,-0.5,-0.4,-0.3,-0.2,-0.1,0],"format":".1f","labelExpr":"replace(datum.label,'\u2212','-')","title":"fEPSP Peak Amplitude  (mV)"}},"yError":{"field":"e"},"color":{"field":"g","type":"nominal","scale":{"domain":["YA-TgAD","YA-WT"],"range":["#b01515","#1515d0"]},"legend":null}}},
    {"data":{"name":"fepsp"},"transform":[{"filter":"datum.a=='YA'"}],"mark":{"type":"line","strokeWidth":2},"encoding":{"x":{"field":"x","type":"quantitative","scale":{"domain":[15.3,114.3],"nice":false,"zero":false},"axis":{"values":[20,40,60,80,100],"format":"d","title":null}},"y":{"field":"y","type":"quantitative","scale":{"domain":[-0.6,0],"reverse":true,"nice":false,"zero":false},"axis":{"values":[-0.6,-0.5,-0.4,-0.3,-0.2,-0.1,0],"format":".1f","labelExpr":"replace(datum.label,'\u2212','-')","title":"fEPSP Peak Amplitude  (mV)"}},"color":{"field":"g","type":"nominal","scale":{"domain":["YA-TgAD","YA-WT"],"range":["#b01515","#1515d0"]},"legend":null}}},
    {"data":{"name":"fepsp"},"transform":[{"filter":"datum.a=='YA'"}],"mark":{"type":"point","shape":"circle","size":180,"strokeWidth":2,"filled":false,"opacity":1},"encoding":{"x":{"field":"x","type":"quantitative","scale":{"domain":[15.3,114.3],"nice":false,"zero":false},"axis":{"values":[20,40,60,80,100],"format":"d","title":null}},"y":{"field":"y","type":"quantitative","scale":{"domain":[-0.6,0],"reverse":true,"nice":false,"zero":false},"axis":{"values":[-0.6,-0.5,-0.4,-0.3,-0.2,-0.1,0],"format":".1f","labelExpr":"replace(datum.label,'\u2212','-')","title":"fEPSP Peak Amplitude  (mV)"}},
      "stroke":{"field":"g","type":"nominal","scale":{"domain":["YA-WT","YA-TgAD"],"range":["#1515d0","#b01515"]},"legend":{"title":null,"orient":"none","legendX":10,"legendY":1,"symbolType":"M-2,0L-1,0M1,0L2,0M-1,0A1,1,0,0,1,1,0A1,1,0,0,1,-1,0Z","symbolSize":196,"symbolStrokeWidth":2,"labelFontSize":17,"labelOffset":15,"rowPadding":-5,"padding":0}},
      "fill":{"field":"g","type":"nominal","scale":{"domain":["YA-WT","YA-TgAD"],"range":["white","white"]},"legend":{"title":null,"orient":"none","legendX":10,"legendY":1,"symbolType":"M-2,0L-1,0M1,0L2,0M-1,0A1,1,0,0,1,1,0A1,1,0,0,1,-1,0Z","symbolSize":196,"symbolStrokeWidth":2,"labelFontSize":17,"labelOffset":15,"rowPadding":-5,"padding":0}}}},
    {"data":{"values":[{"x1":105.3,"x2":106.7,"y1":-0.455,"y2":-0.455},{"x1":105.3,"x2":106.7,"y1":-0.24,"y2":-0.24},{"x1":106.7,"x2":106.7,"y1":-0.455,"y2":-0.24},{"x1":106.7,"x2":108,"y1":-0.3475,"y2":-0.3475}]},"mark":{"type":"rule","color":"#555","strokeWidth":1},"encoding":{"x":{"field":"x1","type":"quantitative","scale":{"domain":[15.3,114.3],"nice":false,"zero":false},"axis":{"values":[20,40,60,80,100],"format":"d","title":null}},"x2":{"field":"x2"},"y":{"field":"y1","type":"quantitative","scale":{"domain":[-0.6,0],"reverse":true,"nice":false,"zero":false},"axis":{"values":[-0.6,-0.5,-0.4,-0.3,-0.2,-0.1,0],"format":".1f","labelExpr":"replace(datum.label,'\u2212','-')","title":"fEPSP Peak Amplitude  (mV)"}},"y2":{"field":"y2"}}},
    {"data":{"values":[{"x":102.6,"y":-0.348,"s":"×××"}]},"mark":{"type":"text","angle":90,"fontSize":11,"color":"#333"},"encoding":{"x":{"field":"x","type":"quantitative","scale":{"domain":[15.3,114.3],"nice":false,"zero":false},"axis":{"values":[20,40,60,80,100],"format":"d","title":null}},"y":{"field":"y","type":"quantitative","scale":{"domain":[-0.6,0],"reverse":true,"nice":false,"zero":false},"axis":{"values":[-0.6,-0.5,-0.4,-0.3,-0.2,-0.1,0],"format":".1f","labelExpr":"replace(datum.label,'\u2212','-')","title":"fEPSP Peak Amplitude  (mV)"}},"text":{"field":"s"}}},
    {"data":{"values":[{"x":111.3,"y":-0.348,"s":"*"}]},"mark":{"type":"text","fontSize":15,"fontWeight":"bold","dy":5,"color":"#222"},"encoding":{"x":{"field":"x","type":"quantitative","scale":{"domain":[15.3,114.3],"nice":false,"zero":false},"axis":{"values":[20,40,60,80,100],"format":"d","title":null}},"y":{"field":"y","type":"quantitative","scale":{"domain":[-0.6,0],"reverse":true,"nice":false,"zero":false},"axis":{"values":[-0.6,-0.5,-0.4,-0.3,-0.2,-0.1,0],"format":".1f","labelExpr":"replace(datum.label,'\u2212','-')","title":"fEPSP Peak Amplitude  (mV)"}},"text":{"field":"s"}}}
   ]},
  {"width":242,"height":210,"title":{"text":"Middle-Aged","dx":-9,"offset":20},
   "layer":[
    {"data":{"values":[{}]},"mark":{"type":"rule","strokeDash":[2,5],"strokeWidth":2,"color":"black"},"encoding":{"y":{"datum":-0.24,"type":"quantitative","scale":{"domain":[-0.6,0],"reverse":true,"nice":false,"zero":false},"axis":{"values":[-0.6,-0.5,-0.4,-0.3,-0.2,-0.1,0],"labels":false,"title":null}}}},
    {"data":{"name":"fepsp"},"transform":[{"filter":"datum.a=='MA'"}],"mark":{"type":"errorbar","ticks":true,"size":14,"thickness":2},"encoding":{"x":{"field":"x","type":"quantitative","scale":{"domain":[15.3,113.1],"nice":false,"zero":false},"axis":{"values":[20,40,60,80,100],"format":"d","title":"Stimulation Intensity (µA)","titleX":110,"titlePadding":8}},"y":{"field":"y","type":"quantitative","scale":{"domain":[-0.6,0],"reverse":true,"nice":false,"zero":false},"axis":{"values":[-0.6,-0.5,-0.4,-0.3,-0.2,-0.1,0],"labels":false,"title":null}},"yError":{"field":"e"},"color":{"field":"g","type":"nominal","scale":{"domain":["MA-TgAD","MA-WT"],"range":["#b01515","#1515d0"]},"legend":null}}},
    {"data":{"name":"fepsp"},"transform":[{"filter":"datum.a=='MA'"}],"mark":{"type":"line","strokeWidth":2},"encoding":{"x":{"field":"x","type":"quantitative","scale":{"domain":[15.3,113.1],"nice":false,"zero":false},"axis":{"values":[20,40,60,80,100],"format":"d","title":"Stimulation Intensity (µA)","titleX":110,"titlePadding":8}},"y":{"field":"y","type":"quantitative","scale":{"domain":[-0.6,0],"reverse":true,"nice":false,"zero":false},"axis":{"values":[-0.6,-0.5,-0.4,-0.3,-0.2,-0.1,0],"labels":false,"title":null}},"color":{"field":"g","type":"nominal","scale":{"domain":["MA-TgAD","MA-WT"],"range":["#b01515","#1515d0"]},"legend":null}}},
    {"data":{"name":"fepsp"},"transform":[{"filter":"datum.a=='MA'"}],"mark":{"type":"point","shape":"circle","size":180,"strokeWidth":2,"filled":false,"opacity":1},"encoding":{"x":{"field":"x","type":"quantitative","scale":{"domain":[15.3,113.1],"nice":false,"zero":false},"axis":{"values":[20,40,60,80,100],"format":"d","title":"Stimulation Intensity (µA)","titleX":110,"titlePadding":8}},"y":{"field":"y","type":"quantitative","scale":{"domain":[-0.6,0],"reverse":true,"nice":false,"zero":false},"axis":{"values":[-0.6,-0.5,-0.4,-0.3,-0.2,-0.1,0],"labels":false,"title":null}},
      "stroke":{"field":"g","type":"nominal","scale":{"domain":["MA-WT","MA-TgAD"],"range":["#1515d0","#b01515"]},"legend":{"title":null,"orient":"none","legendX":13,"legendY":1,"symbolType":"M-2,0L-1,0M1,0L2,0M-1,0A1,1,0,0,1,1,0A1,1,0,0,1,-1,0Z","symbolSize":196,"symbolStrokeWidth":2,"labelFontSize":17,"labelOffset":15,"rowPadding":-5,"padding":0}},
      "fill":{"field":"g","type":"nominal","scale":{"domain":["MA-WT","MA-TgAD"],"range":["#8a8af0","#f08585"]},"legend":{"title":null,"orient":"none","legendX":13,"legendY":1,"symbolType":"M-2,0L-1,0M1,0L2,0M-1,0A1,1,0,0,1,1,0A1,1,0,0,1,-1,0Z","symbolSize":196,"symbolStrokeWidth":2,"labelFontSize":17,"labelOffset":15,"rowPadding":-5,"padding":0}}}}
   ]},
  {"width":212,"height":210,"title":{"text":"Older-Aged","dx":2,"offset":20},
   "layer":[
    {"data":{"values":[{}]},"mark":{"type":"rule","strokeDash":[2,5],"strokeWidth":2,"color":"black"},"encoding":{"y":{"datum":-0.24,"type":"quantitative","scale":{"domain":[-0.6,0],"reverse":true,"nice":false,"zero":false},"axis":{"values":[-0.6,-0.5,-0.4,-0.3,-0.2,-0.1,0],"labels":false,"title":null}}}},
    {"data":{"name":"fepsp"},"transform":[{"filter":"datum.a=='OA'"}],"mark":{"type":"errorbar","ticks":true,"size":14,"thickness":2},"encoding":{"x":{"field":"x","type":"quantitative","scale":{"domain":[15.3,101],"nice":false,"zero":false},"axis":{"values":[20,40,60,80,100],"format":"d","title":null}},"y":{"field":"y","type":"quantitative","scale":{"domain":[-0.6,0],"reverse":true,"nice":false,"zero":false},"axis":{"values":[-0.6,-0.5,-0.4,-0.3,-0.2,-0.1,0],"labels":false,"title":null}},"yError":{"field":"e"},"color":{"field":"g","type":"nominal","scale":{"domain":["OA-TgAD","OA-WT"],"range":["#a80f0f","#1010c8"]},"legend":null}}},
    {"data":{"name":"fepsp"},"transform":[{"filter":"datum.a=='OA'"}],"mark":{"type":"line","strokeWidth":2},"encoding":{"x":{"field":"x","type":"quantitative","scale":{"domain":[15.3,101],"nice":false,"zero":false},"axis":{"values":[20,40,60,80,100],"format":"d","title":null}},"y":{"field":"y","type":"quantitative","scale":{"domain":[-0.6,0],"reverse":true,"nice":false,"zero":false},"axis":{"values":[-0.6,-0.5,-0.4,-0.3,-0.2,-0.1,0],"labels":false,"title":null}},"color":{"field":"g","type":"nominal","scale":{"domain":["OA-TgAD","OA-WT"],"range":["#a80f0f","#1010c8"]},"legend":null}}},
    {"data":{"name":"fepsp"},"transform":[{"filter":"datum.a=='OA'"}],"mark":{"type":"point","shape":"circle","size":180,"strokeWidth":2,"filled":false,"opacity":1},"encoding":{"x":{"field":"x","type":"quantitative","scale":{"domain":[15.3,101],"nice":false,"zero":false},"axis":{"values":[20,40,60,80,100],"format":"d","title":null}},"y":{"field":"y","type":"quantitative","scale":{"domain":[-0.6,0],"reverse":true,"nice":false,"zero":false},"axis":{"values":[-0.6,-0.5,-0.4,-0.3,-0.2,-0.1,0],"labels":false,"title":null}},
      "stroke":{"field":"g","type":"nominal","scale":{"domain":["OA-WT","OA-TgAD"],"range":["#1010c8","#a80f0f"]},"legend":{"title":null,"orient":"none","legendX":12,"legendY":1,"symbolType":"M-2,0L-1,0M1,0L2,0M-1,0A1,1,0,0,1,1,0A1,1,0,0,1,-1,0Z","symbolSize":196,"symbolStrokeWidth":2,"labelFontSize":17,"labelOffset":15,"rowPadding":-5,"padding":0}},
      "fill":{"field":"g","type":"nominal","scale":{"domain":["OA-WT","OA-TgAD"],"range":["#1010c8","#a80f0f"]},"legend":{"title":null,"orient":"none","legendX":12,"legendY":1,"symbolType":"M-2,0L-1,0M1,0L2,0M-1,0A1,1,0,0,1,1,0A1,1,0,0,1,-1,0Z","symbolSize":196,"symbolStrokeWidth":2,"labelFontSize":17,"labelOffset":15,"rowPadding":-5,"padding":0}}}},
    {"data":{"values":[{"x1":104.6,"x2":106,"y1":-0.454,"y2":-0.454},{"x1":104.6,"x2":106,"y1":-0.306,"y2":-0.306},{"x1":106,"x2":106,"y1":-0.454,"y2":-0.306},{"x1":106,"x2":107.3,"y1":-0.38,"y2":-0.38}]},"mark":{"type":"rule","color":"#555","strokeWidth":1},"encoding":{"x":{"field":"x1","type":"quantitative","scale":{"domain":[15.3,101],"nice":false,"zero":false},"axis":{"values":[20,40,60,80,100],"format":"d","title":null}},"x2":{"field":"x2"},"y":{"field":"y1","type":"quantitative","scale":{"domain":[-0.6,0],"reverse":true,"nice":false,"zero":false},"axis":{"values":[-0.6,-0.5,-0.4,-0.3,-0.2,-0.1,0],"labels":false,"title":null}},"y2":{"field":"y2"}}},
    {"data":{"values":[{"x":101.9,"y":-0.38,"s":"×"},{"x":109.6,"y":-0.38,"s":"**"}]},"mark":{"type":"text","angle":90,"fontSize":12,"color":"#333"},"encoding":{"x":{"field":"x","type":"quantitative","scale":{"domain":[15.3,101],"nice":false,"zero":false},"axis":{"values":[20,40,60,80,100],"format":"d","title":null}},"y":{"field":"y","type":"quantitative","scale":{"domain":[-0.6,0],"reverse":true,"nice":false,"zero":false},"axis":{"values":[-0.6,-0.5,-0.4,-0.3,-0.2,-0.1,0],"labels":false,"title":null}},"text":{"field":"s"}}}
   ]}
 ]
},
{
 "title":{"text":"C","anchor":"start","frame":"bounds","fontSize":28,"dx":-11,"dy":7,"offset":0},
 "spacing":0,
 "resolve":{"scale":{"color":"independent","stroke":"independent","fill":"independent"}},
 "hconcat":[
  {"width":245,"height":210,"title":{"text":"Young Adults","dx":-8,"offset":3},
   "layer":[
    {"data":{"values":[{}]},"mark":{"type":"rule","strokeDash":[2,5],"strokeWidth":2,"color":"black"},"encoding":{"y":{"datum":8.52,"type":"quantitative","scale":{"domain":[7.05,12.5],"nice":false,"zero":false},"axis":{"values":[7.5,8.5,9.5,10.5,11.5,12.5],"format":".1f","title":"Coastline Burst Index"}}}},
    {"data":{"name":"cbi"},"transform":[{"filter":"datum.a=='YA'"}],"mark":{"type":"errorbar","ticks":true,"size":14,"thickness":2},"encoding":{"x":{"field":"x","type":"quantitative","scale":{"domain":[15.3,114.3],"nice":false,"zero":false},"axis":{"values":[20,40,60,80,100],"format":"d","title":null}},"y":{"field":"y","type":"quantitative","scale":{"domain":[7.05,12.5],"nice":false,"zero":false},"axis":{"values":[7.5,8.5,9.5,10.5,11.5,12.5],"format":".1f","title":"Coastline Burst Index"}},"yError":{"field":"e"},"color":{"field":"g","type":"nominal","scale":{"domain":["YA-TgAD","YA-WT"],"range":["#b01515","#1515d0"]},"legend":null}}},
    {"data":{"name":"cbi"},"transform":[{"filter":"datum.a=='YA'"}],"mark":{"type":"line","strokeWidth":2},"encoding":{"x":{"field":"x","type":"quantitative","scale":{"domain":[15.3,114.3],"nice":false,"zero":false},"axis":{"values":[20,40,60,80,100],"format":"d","title":null}},"y":{"field":"y","type":"quantitative","scale":{"domain":[7.05,12.5],"nice":false,"zero":false},"axis":{"values":[7.5,8.5,9.5,10.5,11.5,12.5],"format":".1f","title":"Coastline Burst Index"}},"color":{"field":"g","type":"nominal","scale":{"domain":["YA-TgAD","YA-WT"],"range":["#b01515","#1515d0"]},"legend":null}}},
    {"data":{"name":"cbi"},"transform":[{"filter":"datum.a=='YA'"}],"mark":{"type":"point","shape":"circle","size":180,"strokeWidth":2,"filled":false,"opacity":1},"encoding":{"x":{"field":"x","type":"quantitative","scale":{"domain":[15.3,114.3],"nice":false,"zero":false},"axis":{"values":[20,40,60,80,100],"format":"d","title":null}},"y":{"field":"y","type":"quantitative","scale":{"domain":[7.05,12.5],"nice":false,"zero":false},"axis":{"values":[7.5,8.5,9.5,10.5,11.5,12.5],"format":".1f","title":"Coastline Burst Index"}},
      "stroke":{"field":"g","type":"nominal","scale":{"domain":["YA-WT","YA-TgAD"],"range":["#1515d0","#b01515"]},"legend":{"title":null,"orient":"none","legendX":16,"legendY":4,"symbolType":"M-2,0L-1,0M1,0L2,0M-1,0A1,1,0,0,1,1,0A1,1,0,0,1,-1,0Z","symbolSize":196,"symbolStrokeWidth":2,"labelFontSize":17,"labelOffset":15,"rowPadding":-4,"padding":0}},
      "fill":{"field":"g","type":"nominal","scale":{"domain":["YA-WT","YA-TgAD"],"range":["white","white"]},"legend":{"title":null,"orient":"none","legendX":16,"legendY":4,"symbolType":"M-2,0L-1,0M1,0L2,0M-1,0A1,1,0,0,1,1,0A1,1,0,0,1,-1,0Z","symbolSize":196,"symbolStrokeWidth":2,"labelFontSize":17,"labelOffset":15,"rowPadding":-4,"padding":0}}}},
    {"data":{"values":[{"x1":105.9,"x2":107.3,"y1":9.57,"y2":9.57},{"x1":105.9,"x2":107.3,"y1":8.53,"y2":8.53},{"x1":107.3,"x2":107.3,"y1":9.57,"y2":8.53},{"x1":107.3,"x2":108.6,"y1":9.05,"y2":9.05}]},"mark":{"type":"rule","color":"#555","strokeWidth":1},"encoding":{"x":{"field":"x1","type":"quantitative","scale":{"domain":[15.3,114.3],"nice":false,"zero":false},"axis":{"values":[20,40,60,80,100],"format":"d","title":null}},"x2":{"field":"x2"},"y":{"field":"y1","type":"quantitative","scale":{"domain":[7.05,12.5],"nice":false,"zero":false},"axis":{"values":[7.5,8.5,9.5,10.5,11.5,12.5],"format":".1f","title":"Coastline Burst Index"}},"y2":{"field":"y2"}}},
    {"data":{"values":[{"x":111.4,"y":9.05,"s":"*"}]},"mark":{"type":"text","fontSize":15,"fontWeight":"bold","dy":5,"color":"#222"},"encoding":{"x":{"field":"x","type":"quantitative","scale":{"domain":[15.3,114.3],"nice":false,"zero":false},"axis":{"values":[20,40,60,80,100],"format":"d","title":null}},"y":{"field":"y","type":"quantitative","scale":{"domain":[7.05,12.5],"nice":false,"zero":false},"axis":{"values":[7.5,8.5,9.5,10.5,11.5,12.5],"format":".1f","title":"Coastline Burst Index"}},"text":{"field":"s"}}}
   ]},
  {"width":242,"height":210,"title":{"text":"Middle-Aged","dx":-9,"offset":11},
   "layer":[
    {"data":{"values":[{}]},"mark":{"type":"rule","strokeDash":[2,5],"strokeWidth":2,"color":"black"},"encoding":{"y":{"datum":8.52,"type":"quantitative","scale":{"domain":[7.05,12.5],"nice":false,"zero":false},"axis":{"values":[7.5,8.5,9.5,10.5,11.5,12.5],"labels":false,"title":null}}}},
    {"data":{"name":"cbi"},"transform":[{"filter":"datum.a=='MA'"}],"mark":{"type":"errorbar","ticks":true,"size":14,"thickness":2},"encoding":{"x":{"field":"x","type":"quantitative","scale":{"domain":[15.3,113.1],"nice":false,"zero":false},"axis":{"values":[20,40,60,80,100],"format":"d","title":"Stimulation Intensity (µA)","titleX":110,"titlePadding":14}},"y":{"field":"y","type":"quantitative","scale":{"domain":[7.05,12.5],"nice":false,"zero":false},"axis":{"values":[7.5,8.5,9.5,10.5,11.5,12.5],"labels":false,"title":null}},"yError":{"field":"e"},"color":{"field":"g","type":"nominal","scale":{"domain":["MA-TgAD","MA-WT"],"range":["#b01515","#1515d0"]},"legend":null}}},
    {"data":{"name":"cbi"},"transform":[{"filter":"datum.a=='MA'"}],"mark":{"type":"line","strokeWidth":2},"encoding":{"x":{"field":"x","type":"quantitative","scale":{"domain":[15.3,113.1],"nice":false,"zero":false},"axis":{"values":[20,40,60,80,100],"format":"d","title":"Stimulation Intensity (µA)","titleX":110,"titlePadding":14}},"y":{"field":"y","type":"quantitative","scale":{"domain":[7.05,12.5],"nice":false,"zero":false},"axis":{"values":[7.5,8.5,9.5,10.5,11.5,12.5],"labels":false,"title":null}},"color":{"field":"g","type":"nominal","scale":{"domain":["MA-TgAD","MA-WT"],"range":["#b01515","#1515d0"]},"legend":null}}},
    {"data":{"name":"cbi"},"transform":[{"filter":"datum.a=='MA'"}],"mark":{"type":"point","shape":"circle","size":180,"strokeWidth":2,"filled":false,"opacity":1},"encoding":{"x":{"field":"x","type":"quantitative","scale":{"domain":[15.3,113.1],"nice":false,"zero":false},"axis":{"values":[20,40,60,80,100],"format":"d","title":"Stimulation Intensity (µA)","titleX":110,"titlePadding":14}},"y":{"field":"y","type":"quantitative","scale":{"domain":[7.05,12.5],"nice":false,"zero":false},"axis":{"values":[7.5,8.5,9.5,10.5,11.5,12.5],"labels":false,"title":null}},
      "stroke":{"field":"g","type":"nominal","scale":{"domain":["MA-WT","MA-TgAD"],"range":["#1515d0","#b01515"]},"legend":{"title":null,"orient":"none","legendX":9,"legendY":4,"symbolType":"M-2,0L-1,0M1,0L2,0M-1,0A1,1,0,0,1,1,0A1,1,0,0,1,-1,0Z","symbolSize":196,"symbolStrokeWidth":2,"labelFontSize":17,"labelOffset":15,"rowPadding":-4,"padding":0}},
      "fill":{"field":"g","type":"nominal","scale":{"domain":["MA-WT","MA-TgAD"],"range":["#8a8af0","#f08585"]},"legend":{"title":null,"orient":"none","legendX":9,"legendY":4,"symbolType":"M-2,0L-1,0M1,0L2,0M-1,0A1,1,0,0,1,1,0A1,1,0,0,1,-1,0Z","symbolSize":196,"symbolStrokeWidth":2,"labelFontSize":17,"labelOffset":15,"rowPadding":-4,"padding":0}}}}
   ]},
  {"width":212,"height":210,"title":{"text":"Older-Aged","dx":2,"offset":11},
   "layer":[
    {"data":{"values":[{}]},"mark":{"type":"rule","strokeDash":[2,5],"strokeWidth":2,"color":"black"},"encoding":{"y":{"datum":8.52,"type":"quantitative","scale":{"domain":[7.05,12.5],"nice":false,"zero":false},"axis":{"values":[7.5,8.5,9.5,10.5,11.5,12.5],"labels":false,"title":null}}}},
    {"data":{"name":"cbi"},"transform":[{"filter":"datum.a=='OA'"}],"mark":{"type":"errorbar","ticks":true,"size":14,"thickness":2},"encoding":{"x":{"field":"x","type":"quantitative","scale":{"domain":[15.3,101],"nice":false,"zero":false},"axis":{"values":[20,40,60,80,100],"format":"d","title":null}},"y":{"field":"y","type":"quantitative","scale":{"domain":[7.05,12.5],"nice":false,"zero":false},"axis":{"values":[7.5,8.5,9.5,10.5,11.5,12.5],"labels":false,"title":null}},"yError":{"field":"e"},"color":{"field":"g","type":"nominal","scale":{"domain":["OA-TgAD","OA-WT"],"range":["#a80f0f","#1010c8"]},"legend":null}}},
    {"data":{"name":"cbi"},"transform":[{"filter":"datum.a=='OA'"}],"mark":{"type":"line","strokeWidth":2},"encoding":{"x":{"field":"x","type":"quantitative","scale":{"domain":[15.3,101],"nice":false,"zero":false},"axis":{"values":[20,40,60,80,100],"format":"d","title":null}},"y":{"field":"y","type":"quantitative","scale":{"domain":[7.05,12.5],"nice":false,"zero":false},"axis":{"values":[7.5,8.5,9.5,10.5,11.5,12.5],"labels":false,"title":null}},"color":{"field":"g","type":"nominal","scale":{"domain":["OA-TgAD","OA-WT"],"range":["#a80f0f","#1010c8"]},"legend":null}}},
    {"data":{"name":"cbi"},"transform":[{"filter":"datum.a=='OA'"}],"mark":{"type":"point","shape":"circle","size":180,"strokeWidth":2,"filled":false,"opacity":1},"encoding":{"x":{"field":"x","type":"quantitative","scale":{"domain":[15.3,101],"nice":false,"zero":false},"axis":{"values":[20,40,60,80,100],"format":"d","title":null}},"y":{"field":"y","type":"quantitative","scale":{"domain":[7.05,12.5],"nice":false,"zero":false},"axis":{"values":[7.5,8.5,9.5,10.5,11.5,12.5],"labels":false,"title":null}},
      "stroke":{"field":"g","type":"nominal","scale":{"domain":["OA-WT","OA-TgAD"],"range":["#1010c8","#a80f0f"]},"legend":{"title":null,"orient":"none","legendX":18,"legendY":4,"symbolType":"M-2,0L-1,0M1,0L2,0M-1,0A1,1,0,0,1,1,0A1,1,0,0,1,-1,0Z","symbolSize":196,"symbolStrokeWidth":2,"labelFontSize":17,"labelOffset":15,"rowPadding":-4,"padding":0}},
      "fill":{"field":"g","type":"nominal","scale":{"domain":["OA-WT","OA-TgAD"],"range":["#1010c8","#a80f0f"]},"legend":{"title":null,"orient":"none","legendX":18,"legendY":4,"symbolType":"M-2,0L-1,0M1,0L2,0M-1,0A1,1,0,0,1,1,0A1,1,0,0,1,-1,0Z","symbolSize":196,"symbolStrokeWidth":2,"labelFontSize":17,"labelOffset":15,"rowPadding":-4,"padding":0}}}},
    {"data":{"values":[{"x1":104.6,"x2":106,"y1":10.5,"y2":10.5},{"x1":104.6,"x2":106,"y1":9.1,"y2":9.1},{"x1":106,"x2":106,"y1":10.5,"y2":9.1},{"x1":106,"x2":107.3,"y1":9.8,"y2":9.8}]},"mark":{"type":"rule","color":"#555","strokeWidth":1},"encoding":{"x":{"field":"x1","type":"quantitative","scale":{"domain":[15.3,101],"nice":false,"zero":false},"axis":{"values":[20,40,60,80,100],"format":"d","title":null}},"x2":{"field":"x2"},"y":{"field":"y1","type":"quantitative","scale":{"domain":[7.05,12.5],"nice":false,"zero":false},"axis":{"values":[7.5,8.5,9.5,10.5,11.5,12.5],"labels":false,"title":null}},"y2":{"field":"y2"}}},
    {"data":{"values":[{"x":103,"y":9.8,"s":"×××"},{"x":109.6,"y":9.8,"s":"**"}]},"mark":{"type":"text","angle":90,"fontSize":12,"color":"#333"},"encoding":{"x":{"field":"x","type":"quantitative","scale":{"domain":[15.3,101],"nice":false,"zero":false},"axis":{"values":[20,40,60,80,100],"format":"d","title":null}},"y":{"field":"y","type":"quantitative","scale":{"domain":[7.05,12.5],"nice":false,"zero":false},"axis":{"values":[7.5,8.5,9.5,10.5,11.5,12.5],"labels":false,"title":null}},"text":{"field":"s"}}}
   ]}
 ]
}
],
"spacing":18,
"resolve":{"scale":{"color":"independent","stroke":"independent","fill":"independent"}}
}
